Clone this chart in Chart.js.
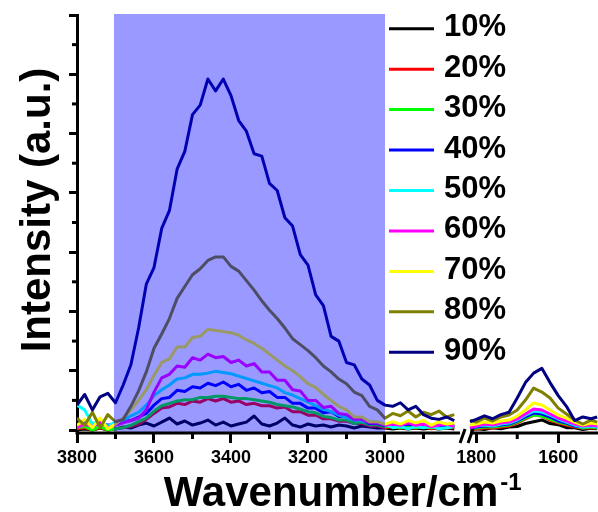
<!DOCTYPE html>
<html><head><meta charset="utf-8">
<script src="https://cdn.jsdelivr.net/npm/chart.js@4.4.1/dist/chart.umd.min.js"></script>
<style>html,body{margin:0;padding:0;background:#fff;overflow:hidden}canvas{display:block}</style>
</head><body>
<canvas id="c" width="598" height="512"></canvas>
<script>
// ---------- DATA ----------
const seriesLabels = ['10%','20%','30%','40%','50%','60%','70%','80%','90%'];
const seriesColors = ['#000000','#ff0000','#00ff00','#0000ff','#00ffff','#ff00ff','#ffff00','#808000','#000080'];

// wavenumbers (cm-1), left segment and right segment of the broken axis
const wnA = [3800,3780,3760,3740,3720,3700,3680,3660,3640,3620,3600,3580,3560,3540,3520,3500,3480,3460,3440,3420,3400,3380,3360,3340,3320,3300,3280,3260,3240,3220,3200,3180,3160,3140,3120,3100,3080,3060,3040,3020,3000,2980,2960,2940,2920,2900,2880,2860,2840,2820];
const wnB = [1815,1800,1780,1760,1740,1720,1700,1680,1660,1640,1620,1600,1580,1560,1540,1520,1505];

const s10A = [0,8,0,17,0,8,25,17,42,59,34,67,101,51,76,42,59,84,42,67,34,51,67,118,51,34,59,101,42,25,51,34,42,25,42,34,17,34,25,17,17,8,17,8,17,8,17,8,17,8];
const s20A = [10,20,0,20,0,10,20,30,50,90,140,185,195,225,215,245,235,265,245,265,235,245,215,225,205,205,185,195,155,155,125,125,95,95,75,75,55,55,35,35,20,30,20,20,20,30,10,20,20,20];
const s30A = [20,30,0,30,0,10,20,40,70,100,160,205,225,245,255,255,275,275,285,285,275,265,265,255,245,235,215,205,195,175,155,145,115,105,85,85,55,65,45,45,30,30,20,40,20,30,20,30,20,30];
const s40A = [50,80,30,60,40,50,70,80,110,140,210,265,275,335,325,365,355,395,375,405,365,385,335,355,315,325,275,275,225,225,185,185,145,155,115,115,85,85,55,55,40,40,30,50,30,40,30,40,30,40];
const s50A = [210,170,50,80,30,70,80,120,150,210,290,340,380,430,440,470,470,480,495,485,475,455,435,415,395,375,355,315,295,265,235,205,175,155,125,105,85,75,65,65,50,20,30,10,30,20,30,10,20,30];
const s60A = [20,50,30,70,20,40,60,80,100,170,320,440,470,540,530,610,590,640,610,620,570,590,540,560,490,490,420,420,340,330,250,250,190,200,140,130,90,90,60,60,40,50,40,60,40,50,30,40,50,30];
const s70A = [40,90,20,100,10,50,100,170,250,340,460,570,600,700,700,780,790,850,840,830,820,800,760,730,690,640,590,540,500,450,390,360,300,250,200,170,110,110,70,70,50,70,50,80,60,80,40,70,50,60];
const s80A = [100,40,150,20,130,70,90,200,330,490,690,810,940,1110,1210,1310,1360,1430,1460,1460,1380,1340,1260,1180,1090,1010,940,860,770,720,670,610,540,490,430,390,320,290,200,170,100,140,120,160,110,150,130,160,110,130];
const s90A = [210,300,170,280,310,230,380,550,860,1230,1370,1700,1850,2200,2350,2660,2740,2960,2860,2960,2820,2610,2520,2330,2310,2080,2020,1790,1720,1480,1390,1140,1050,790,750,570,550,430,380,250,210,200,230,170,200,130,100,90,110,80];

const s10B = [0,10,5,20,10,25,30,55,70,85,55,45,20,20,5,15,10];
const s20B = [8,8,17,17,25,34,59,93,126,118,84,59,42,25,17,17,17];
const s30B = [8,17,25,25,34,42,67,101,126,118,93,67,51,34,17,25,17];
const s40B = [17,25,34,34,42,51,76,110,143,135,110,76,59,34,25,34,25];
const s50B = [25,34,42,34,51,59,84,126,160,152,126,93,67,42,25,34,25];
const s60B = [17,34,51,42,59,67,93,135,177,169,135,101,76,51,34,42,34];
const s70B = [42,51,67,59,76,84,118,169,228,211,169,126,101,67,42,59,51];
const s80B = [84,67,101,76,110,126,169,253,354,320,270,185,135,84,51,84,67];
const s90B = [70,90,120,95,130,150,270,400,480,520,400,290,200,80,110,95,110];

const seriesA = [s10A,s20A,s30A,s40A,s50A,s60A,s70A,s80A,s90A];
const seriesB = [s10B,s20B,s30B,s40B,s50B,s60B,s70B,s80B,s90B];

const xMajorTicks = [3800,3600,3400,3200,3000,1800,1600];
const xMinorTicks = [3700,3500,3300,3100,2900,1700,1500];
const yMajorTicks = [0,500,1000,1500,2000,2500,3000,3500];
const yMinorTicks = [250,750,1250,1750,2250,2750,3250];
const shadeRange = [3700, 3000];

// ---------- broken axis mapping ----------
const AX_START = 3800, SEG1_END = 2805, SEG2_START = 1815, AX_END = 1503;
const GAP = 26, SEG2_K = 1.065;
function pos(w){
  if (w >= 2300) return AX_START - w;
  return (AX_START - SEG1_END) + GAP + (SEG2_START - w) * SEG2_K;
}
function wnOf(p){
  const p1 = AX_START - SEG1_END;
  if (p <= p1 + GAP/2) return AX_START - p;
  return SEG2_START - (p - p1 - GAP) / SEG2_K;
}
const XMAX = pos(AX_END);

const FONT = '"Liberation Sans", Arial, Helvetica, sans-serif';
Chart.defaults.font.family = FONT;

const datasets = seriesLabels.map((lab, i) => {
  const pts = wnA.map((w, k) => ({x: pos(w), y: seriesA[i][k]}));
  pts.push({x: (pos(wnA[wnA.length-1]) + pos(wnB[0])) / 2, y: null});
  wnB.forEach((w, k) => pts.push({x: pos(w), y: seriesB[i][k]}));
  return {
    label: lab, data: pts, borderColor: seriesColors[i], backgroundColor: seriesColors[i],
    borderWidth: 3, borderJoinStyle: 'round', pointRadius: 0, tension: 0, fill: false, spanGaps: false,
    order: seriesLabels.length - 1 - i
  };
});

function seg(ctx, x1, y1, x2, y2){ ctx.beginPath(); ctx.moveTo(x1, y1); ctx.lineTo(x2, y2); ctx.stroke(); }

const decor = {
  id: 'decor',
  afterDatasetsDraw(chart){
    const ctx = chart.ctx, xs = chart.scales.x, ys = chart.scales.y, ca = chart.chartArea;
    ctx.save();
    // shaded band (drawn over the spectra)
    const a = xs.getPixelForValue(pos(shadeRange[0])) - 1.5, b = xs.getPixelForValue(pos(shadeRange[1]));
    ctx.fillStyle = 'rgba(0,0,255,0.4)';
    ctx.fillRect(a, ca.top - 1, b - a, ca.bottom - ca.top + 1);
    // bottom axis with break
    const yb = ca.bottom;
    const br1 = xs.getPixelForValue(pos(SEG1_END)), br2 = xs.getPixelForValue(pos(SEG2_START));
    ctx.strokeStyle = '#000'; ctx.lineWidth = 3; ctx.lineCap = 'butt';
    seg(ctx, ca.left - 1.5, yb, br1, yb);
    seg(ctx, br2, yb, ca.right, yb);
    seg(ctx, br1 + 5, yb - 4, br1 + 0, yb + 10);
    seg(ctx, br2 + 3, yb - 4, br2 - 2, yb + 10);
    // minor ticks
    xMinorTicks.forEach(w => {
      const p = xs.getPixelForValue(pos(w));
      if (p <= ca.right + 0.5) seg(ctx, p, yb, p, yb + 6);
    });
    yMinorTicks.forEach(v => {
      const y = ys.getPixelForValue(v);
      seg(ctx, ca.left - 5, y, ca.left, y);
    });
    ctx.restore();
  },
  afterDraw(chart){
    const ctx = chart.ctx;
    ctx.save();
    // legend
    ctx.font = 'bold 31px ' + FONT;
    ctx.textAlign = 'left'; ctx.textBaseline = 'alphabetic';
    chart.data.datasets.forEach((ds, i) => {
      const y = 28.7 + 40.45 * i;
      ctx.strokeStyle = ds.borderColor; ctx.lineWidth = 3;
      seg(ctx, 389, y, 434, y);
      ctx.fillStyle = '#000';
      ctx.fillText(ds.label, 444, y + 7.5);
    });
    // axis titles
    ctx.fillStyle = '#000';
    ctx.font = 'bold 42px ' + FONT;
    ctx.save();
    ctx.translate(50, 210); ctx.rotate(-Math.PI / 2);
    ctx.textAlign = 'center';
    ctx.fillText('Intensity (a.u.)', 0, 0);
    ctx.restore();
    const t = 'Wavenumber/cm';
    const w = ctx.measureText(t).width;
    const x0 = 331 - w / 2;
    ctx.textAlign = 'left';
    ctx.fillText(t, x0, 506);
    ctx.font = 'bold 24px ' + FONT;
    ctx.fillText('-1', x0 + w + 2, 490);
    ctx.restore();
  }
};

new Chart(document.getElementById('c'), {
  type: 'line',
  data: { datasets },
  options: {
    responsive: false, animation: false, devicePixelRatio: 1,
    layout: { padding: { top: 15, right: 0, left: 0, bottom: 0 } },
    plugins: { legend: { display: false }, tooltip: { enabled: false } },
    scales: {
      x: {
        type: 'linear', min: 0, max: XMAX,
        afterBuildTicks: s => { s.ticks = xMajorTicks.map(w => ({ value: pos(w) })); },
        afterFit: s => { s.height = 512 - 433; },
        ticks: {
          autoSkip: false, maxRotation: 0, padding: 4, color: '#000',
          font: { size: 18, weight: 'bold', family: FONT },
          callback: v => String(Math.round(wnOf(v) / 10) * 10)
        },
        grid: { drawOnChartArea: false, drawTicks: true, tickLength: 10, tickWidth: 3, lineWidth: 3, tickColor: '#000' },
        border: { display: false }
      },
      y: {
        type: 'linear', min: -25, max: 3500,
        afterBuildTicks: s => { s.ticks = yMajorTicks.map(v => ({ value: v })); },
        afterFit: s => { s.width = 77; },
        ticks: { display: false },
        grid: { drawOnChartArea: false, drawTicks: true, tickLength: 8, tickWidth: 3, lineWidth: 3, tickColor: '#000' },
        border: { display: true, width: 3, color: '#000' }
      }
    }
  },
  plugins: [decor]
});
</script>
</body></html>
